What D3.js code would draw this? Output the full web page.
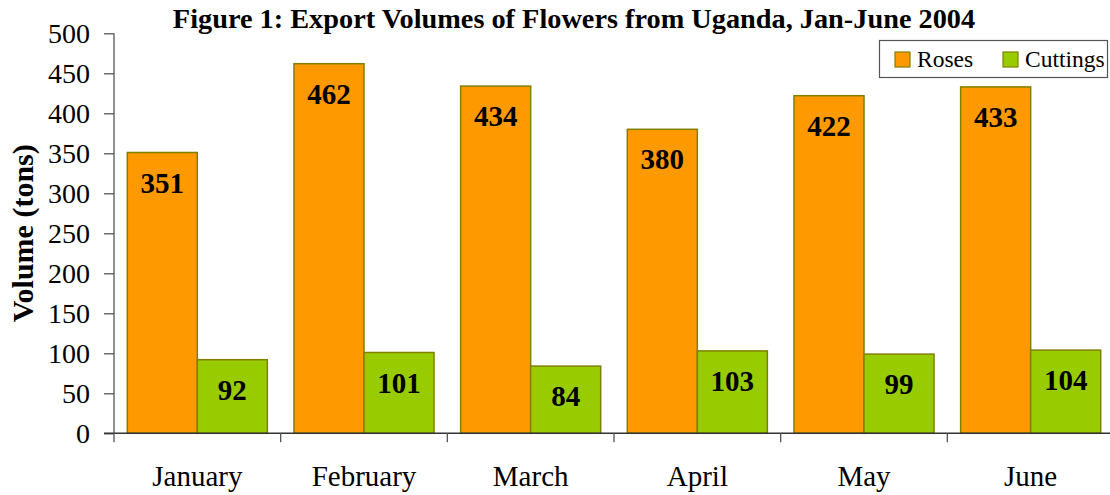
<!DOCTYPE html>
<html><head><meta charset="utf-8">
<script src="https://cdn.jsdelivr.net/npm/d3@7"></script>
<style>body{margin:0;background:#fff}svg{display:block;font-family:"Liberation Serif","Times New Roman",serif}</style>
</head><body>
<svg id="c" width="1110" height="495"></svg>
<script>
const months = ["January","February","March","April","May","June"];
const roses = [351,462,434,380,422,433];
const cuttings = [92,101,84,103,99,104];
const seriesNames = ["Roses","Cuttings"];
const yTicks = [0,50,100,150,200,250,300,350,400,450,500];
const colors = ["#FF9900","#99CC00"];

const svg = d3.select("#c");
const x0 = 114, x1 = 1114, yTop = 33.3, yBot = 433.3;
const x = d3.scaleBand().domain(months).range([x0,x1]).paddingInner(0).paddingOuter(0);
const xs = d3.scaleBand().domain(seriesNames).range([0,x.bandwidth()]).paddingOuter(0.19).paddingInner(0);
const y = d3.scaleLinear().domain([0,500]).range([yBot,yTop]);

// title
svg.append("text").attr("x",574).attr("y",28).attr("text-anchor","middle")
  .attr("font-weight","bold").attr("font-size",28.3)
  .text("Figure 1: Export Volumes of Flowers from Uganda, Jan-June 2004");

// y axis title
svg.append("text").attr("transform",`translate(33,${(yTop+yBot)/2}) rotate(-90)`)
  .attr("text-anchor","middle").attr("font-weight","bold").attr("font-size",30)
  .text("Volume (tons)");

// bars
const data = months.map((m,i)=>({m, vals:[roses[i],cuttings[i]]}));
const g = svg.append("g");
data.forEach(d=>{
  d.vals.forEach((v,j)=>{
    const bx = x(d.m)+xs(seriesNames[j]);
    g.append("rect").attr("x",bx).attr("y",y(v)).attr("width",xs.bandwidth()).attr("height",y(0)-y(v))
      .attr("fill",colors[j]).attr("stroke","#808000").attr("stroke-width",1.5);
    g.append("text").attr("x",bx+xs.bandwidth()/2).attr("y",y(v)+40).attr("text-anchor","middle")
      .attr("font-weight","bold").attr("font-size",29).text(v);
  });
});

// y axis
const yAxis = d3.axisLeft(y).tickValues(yTicks).tickSize(10).tickPadding(14);
const ya = svg.append("g").attr("transform",`translate(${x0},0)`).call(yAxis);
ya.attr("font-family",null).attr("font-size",null);
ya.selectAll("text").attr("font-size",28).attr("fill","#000").attr("dy","0.34em");
ya.selectAll("line,path").attr("stroke","#555").attr("stroke-width",1.3);
ya.select(".domain").attr("d",`M0,${yTop}V${yBot}`);

// x axis
const xa = svg.append("g").attr("transform",`translate(0,${yBot})`);
xa.append("line").attr("x1",x0-10).attr("x2",1110).attr("y1",0).attr("y2",0).attr("stroke","#333").attr("stroke-width",1.5);
months.forEach(m=>{
  xa.append("line").attr("x1",x(m)).attr("x2",x(m)).attr("y1",0).attr("y2",9).attr("stroke","#555").attr("stroke-width",1.3);
  xa.append("text").attr("x",x(m)+x.bandwidth()/2).attr("y",53).attr("text-anchor","middle")
    .attr("font-size",29).text(m);
});

// legend
const lg = svg.append("g");
lg.append("rect").attr("x",879.5).attr("y",40.5).attr("width",228).attr("height",37).attr("fill","#fff").attr("stroke","#555").attr("stroke-width",1.2);
const lx = [895,1003];
seriesNames.forEach((s,j)=>{
  lg.append("rect").attr("x",lx[j]).attr("y",52).attr("width",15).attr("height",15).attr("fill",colors[j]).attr("stroke","#808000").attr("stroke-width",1.2);
  lg.append("text").attr("x",lx[j]+22).attr("y",67).attr("font-size",23.5).text(s);
});
</script>
</body></html>
